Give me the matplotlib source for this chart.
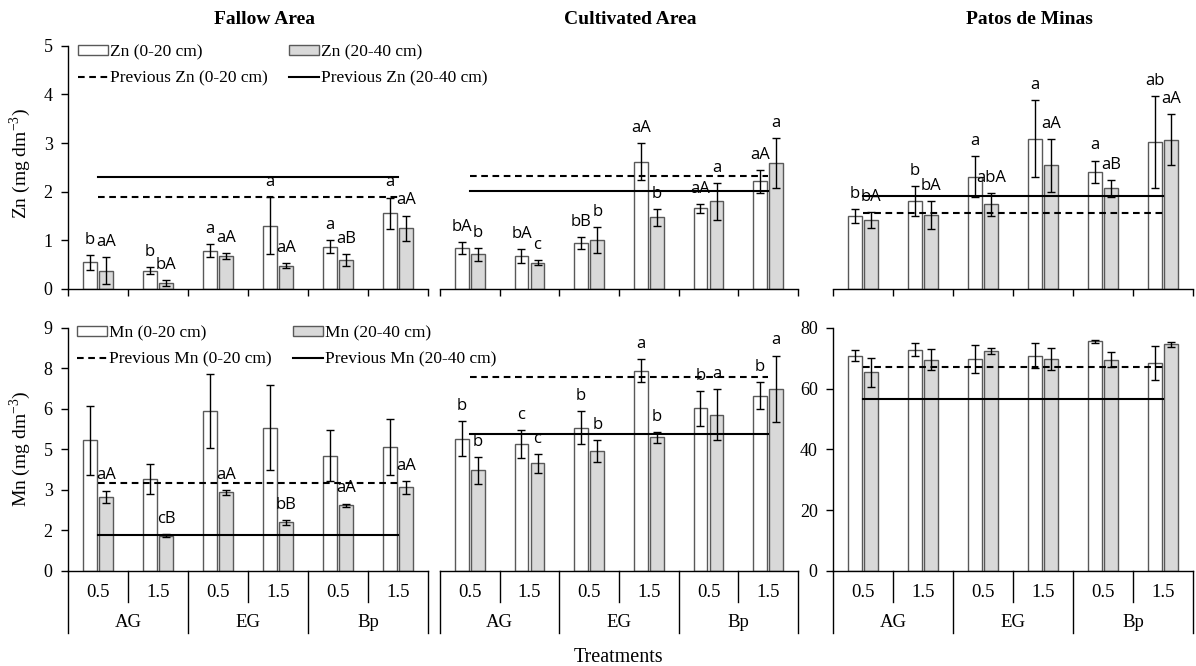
import matplotlib
matplotlib.use("Agg")
import matplotlib.pyplot as plt
from matplotlib.patches import Patch
from matplotlib.lines import Line2D

plt.rcParams['font.family'] = ['Liberation Serif', 'DejaVu Serif']
plt.rcParams['mathtext.fontset'] = 'stix'

# ---------------- data ----------------
slots = ["0.5", "1.5", "0.5", "1.5", "0.5", "1.5"]
groups = ["AG", "EG", "Bp"]
titles = ["Fallow Area", "Cultivated Area", "Patos de Minas"]

# Zn (mg dm-3)
zn_fallow_top = [0.55, 0.38, 0.79, 1.30, 0.87, 1.56]
zn_fallow_top_err = [0.15, 0.08, 0.13, 0.59, 0.13, 0.32]
zn_fallow_sub = [0.38, 0.13, 0.68, 0.48, 0.60, 1.25]
zn_fallow_sub_err = [0.27, 0.06, 0.06, 0.05, 0.12, 0.26]
zn_fallow_prev = [1.90, 2.31]
zn_fallow_lab_top = ["b", "b", "a", "a", "a", "a"]
zn_fallow_lab_sub = ["aA", "bA", "aA", "aA", "aB", "aA"]

zn_cult_top = [0.84, 0.68, 0.94, 2.62, 1.66, 2.21]
zn_cult_top_err = [0.12, 0.14, 0.12, 0.38, 0.09, 0.24]
zn_cult_sub = [0.71, 0.54, 1.01, 1.47, 1.80, 2.59]
zn_cult_sub_err = [0.13, 0.05, 0.26, 0.18, 0.38, 0.52]
zn_cult_prev = [2.33, 2.01]
zn_cult_lab_top = ["bA", "bA", "bB", "aA", "aA", "aA"]
zn_cult_lab_sub = ["b", "c", "b", "b", "a", "a"]

zn_patos_top = [1.50, 1.81, 2.31, 3.09, 2.41, 3.02]
zn_patos_top_err = [0.15, 0.30, 0.42, 0.79, 0.23, 0.95]
zn_patos_sub = [1.42, 1.52, 1.74, 2.54, 2.07, 3.07]
zn_patos_sub_err = [0.17, 0.29, 0.24, 0.55, 0.17, 0.52]
zn_patos_prev = [1.57, 1.92]
zn_patos_lab_top = ["b", "b", "a", "a", "a", "ab"]
zn_patos_lab_sub = ["bA", "bA", "abA", "aA", "aB", "aA"]

# Mn (mg dm-3)
mn_fallow_top = [4.83, 3.40, 5.92, 5.30, 4.27, 4.58]
mn_fallow_top_err = [1.29, 0.54, 1.38, 1.58, 0.95, 1.04]
mn_fallow_sub = [2.74, 1.30, 2.90, 1.79, 2.43, 3.09]
mn_fallow_sub_err = [0.23, 0.06, 0.08, 0.09, 0.06, 0.25]
mn_fallow_prev = [3.24, 1.32]
mn_fallow_lab_top = ["", "", "", "", "", ""]
mn_fallow_lab_sub = ["aA", "cB", "aA", "bB", "aA", "aA"]

mn_cult_top = [4.90, 4.71, 5.31, 7.42, 6.02, 6.49]
mn_cult_top_err = [0.64, 0.52, 0.60, 0.42, 0.64, 0.50]
mn_cult_sub = [3.72, 3.98, 4.44, 4.94, 5.78, 6.75]
mn_cult_sub_err = [0.49, 0.34, 0.41, 0.21, 0.94, 1.23]
mn_cult_prev = [7.17, 5.06]
mn_cult_lab_top = ["b", "c", "b", "a", "b", "b"]
mn_cult_lab_sub = ["b", "c", "b", "b", "a", "a"]

mn_patos_top = [70.9, 72.9, 69.8, 70.9, 75.6, 68.5]
mn_patos_top_err = [1.7, 2.1, 4.5, 4.0, 0.6, 5.5]
mn_patos_sub = [65.4, 69.6, 72.4, 69.8, 69.6, 74.6]
mn_patos_sub_err = [4.8, 3.5, 1.1, 3.7, 2.5, 0.9]
mn_patos_prev = [67.0, 56.7]

zn_ticks = [0, 1, 2, 3, 4, 5]
zn_ticklabels = ["0", "1", "2", "3", "4", "5"]
mn_ticks = [0, 1.5, 3, 4.5, 6, 7.5, 9]
mn_ticklabels = ["0", "2", "3", "5", "6", "8", "9"]
mnp_ticks = [0, 20, 40, 60, 80]
mnp_ticklabels = ["0", "20", "40", "60", "80"]

# ---------------- styling ----------------
W, H = 1196, 666
fig = plt.figure(figsize=(W / 100, H / 100), dpi=100)

GRAY = '#d9d9d9'
EDGE = '#595959'
LETTER_FONT = ['Open Sans', 'DejaVu Sans']

lefts = [68, 440, 833]
widths = [360, 358, 360]
top_y = (45.7, 289.0)
bot_y = (328.0, 570.7)


def make_ax(col, ypix):
    l = lefts[col] / W
    w = widths[col] / W
    b = 1 - ypix[1] / H
    h = (ypix[1] - ypix[0]) / H
    ax = fig.add_axes([l, b, w, h])
    ax.patch.set_alpha(0)
    return ax


def draw_panel(ax, top, top_err, sub, sub_err, prev, lab_top, lab_sub, ymax):
    x = list(range(6))
    xw = [i - 0.135 for i in x]
    xg = [i + 0.135 for i in x]
    ax.bar(xw, top, width=0.23, color='white', edgecolor=EDGE, linewidth=1.0, zorder=2)
    ax.bar(xg, sub, width=0.23, color=GRAY, edgecolor=EDGE, linewidth=1.0, zorder=2)
    ax.errorbar(xw, top, yerr=top_err, fmt='none', ecolor='black', elinewidth=1,
                capsize=2.8, capthick=1, zorder=4)
    ax.errorbar(xg, sub, yerr=sub_err, fmt='none', ecolor='black', elinewidth=1,
                capsize=2.8, capthick=1, zorder=4)
    ax.plot([0, 5], [prev[0], prev[0]], color='black', lw=1.5, ls=(0, (3.2, 2.2)), zorder=3)
    ax.plot([0, 5], [prev[1], prev[1]], color='black', lw=1.5, ls='-', zorder=3)
    if lab_top is not None:
        for xi, m, e, t in zip(xw, top, top_err, lab_top):
            if t:
                ax.annotate(t, (xi, m + e), xytext=(0, 8), textcoords='offset points',
                            ha='center', va='baseline', fontsize=12, family=LETTER_FONT,
                            zorder=5, annotation_clip=False)
        for xi, m, e, t in zip(xg, sub, sub_err, lab_sub):
            if t:
                ax.annotate(t, (xi, m + e), xytext=(0, 8), textcoords='offset points',
                            ha='center', va='baseline', fontsize=12, family=LETTER_FONT,
                            zorder=5, annotation_clip=False)
    ax.set_xlim(-0.5, 5.5)
    ax.set_ylim(0, ymax)
    for s in ['top', 'right']:
        ax.spines[s].set_visible(False)
    ax.spines['bottom'].set_linewidth(1)
    ax.spines['left'].set_linewidth(1)
    ax.tick_params(axis='both', direction='out', length=5, width=1, labelsize=13, pad=6)


def hide_y(ax):
    ax.spines['left'].set_visible(False)
    ax.set_yticks([])


def top_xaxis(ax):
    ax.set_xticks([i - 0.5 for i in range(7)])
    ax.set_xticklabels([])
    ax.tick_params(axis='x', length=5)


def category_table(ax, ypix):
    ax.set_xticks([])
    hpx = ypix[1] - ypix[0]
    tr = ax.get_xaxis_transform()
    short = -31 / hpx
    long_ = -62 / hpx
    for i in range(7):
        xb = i - 0.5
        yb = long_ if i % 2 == 0 else short
        ax.plot([xb, xb], [0, yb], color='black', lw=1, transform=tr, clip_on=False)
    for i, s in enumerate(slots):
        ax.text(i, -22 / hpx, s, transform=tr, ha='center', va='center', fontsize=13.5)
    for j, g in enumerate(groups):
        ax.text(2 * j + 0.5, -52 / hpx, g, transform=tr, ha='center', va='center', fontsize=13.5)


# top row
ax1 = make_ax(0, top_y)
draw_panel(ax1, zn_fallow_top, zn_fallow_top_err, zn_fallow_sub, zn_fallow_sub_err,
           zn_fallow_prev, zn_fallow_lab_top, zn_fallow_lab_sub, 5)
ax1.set_yticks(zn_ticks)
ax1.set_yticklabels(zn_ticklabels)
top_xaxis(ax1)

ax2 = make_ax(1, top_y)
draw_panel(ax2, zn_cult_top, zn_cult_top_err, zn_cult_sub, zn_cult_sub_err,
           zn_cult_prev, zn_cult_lab_top, zn_cult_lab_sub, 5)
hide_y(ax2)
top_xaxis(ax2)

ax3 = make_ax(2, top_y)
draw_panel(ax3, zn_patos_top, zn_patos_top_err, zn_patos_sub, zn_patos_sub_err,
           zn_patos_prev, zn_patos_lab_top, zn_patos_lab_sub, 5)
hide_y(ax3)
top_xaxis(ax3)

# bottom row
ax4 = make_ax(0, bot_y)
draw_panel(ax4, mn_fallow_top, mn_fallow_top_err, mn_fallow_sub, mn_fallow_sub_err,
           mn_fallow_prev, mn_fallow_lab_top, mn_fallow_lab_sub, 9)
ax4.set_yticks(mn_ticks)
ax4.set_yticklabels(mn_ticklabels)
category_table(ax4, bot_y)

ax5 = make_ax(1, bot_y)
draw_panel(ax5, mn_cult_top, mn_cult_top_err, mn_cult_sub, mn_cult_sub_err,
           mn_cult_prev, mn_cult_lab_top, mn_cult_lab_sub, 9)
hide_y(ax5)
category_table(ax5, bot_y)

ax6 = make_ax(2, bot_y)
draw_panel(ax6, mn_patos_top, mn_patos_top_err, mn_patos_sub, mn_patos_sub_err,
           mn_patos_prev, None, None, 80)
ax6.set_yticks(mnp_ticks)
ax6.set_yticklabels(mnp_ticklabels)
category_table(ax6, bot_y)


# legends (figure-level so neighbouring panels do not cover them)
def add_legend(el, x_px, y_px):
    handles = [
        Patch(facecolor='white', edgecolor=EDGE, linewidth=1),
        Line2D([], [], color='black', lw=1.5, ls=(0, (3.2, 2.2))),
        Patch(facecolor=GRAY, edgecolor=EDGE, linewidth=1),
        Line2D([], [], color='black', lw=1.5, ls='-'),
    ]
    labels = [f"{el} (0-20 cm)", f"Previous {el} (0-20 cm)",
              f"{el} (20-40 cm)", f"Previous {el} (20-40 cm)"]
    leg = fig.legend(handles, labels, ncol=2, loc='upper left', frameon=False,
                     bbox_to_anchor=(x_px / W, 1 - y_px / H), bbox_transform=fig.transFigure,
                     fontsize=12.5, handlelength=1.75, handleheight=0.5, handletextpad=0.1,
                     columnspacing=1.2, labelspacing=0.62, borderpad=0, borderaxespad=0)
    leg.set_zorder(10)
    return leg


add_legend("Zn", 78, 44)
add_legend("Mn", 77, 325)

# titles & labels
fig.text(265 / W, 1 - 20 / H, titles[0], ha='center', va='center', fontsize=14, fontweight='bold')
fig.text(630 / W, 1 - 20 / H, titles[1], ha='center', va='center', fontsize=14, fontweight='bold')
fig.text(1029 / W, 1 - 20 / H, titles[2], ha='center', va='center', fontsize=14, fontweight='bold')

fig.text(20 / W, 1 - 163 / H, r'Zn (mg dm$^{\mathregular{-3}}$)', rotation=90,
         ha='center', va='center', fontsize=14)
fig.text(20 / W, 1 - 449 / H, r'Mn (mg dm$^{\mathregular{-3}}$)', rotation=90,
         ha='center', va='center', fontsize=14)
fig.text(618 / W, 1 - 657 / H, "Treatments", ha='center', va='center', fontsize=14.5)

fig.savefig("out.png", dpi=100)
